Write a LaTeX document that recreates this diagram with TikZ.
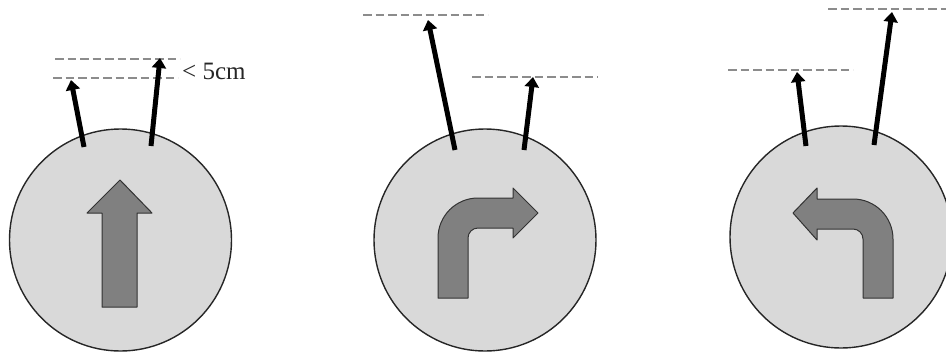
\documentclass[tikz,border=0pt]{standalone}
\usepackage{fontspec}
\setmainfont{Liberation Serif}
\usetikzlibrary{arrows.meta}
\definecolor{discfill}{HTML}{D9D9D9}
\definecolor{turnfill}{HTML}{808080}
\definecolor{turnedge}{HTML}{333333}
\definecolor{guide}{HTML}{8C8C8C}
\tikzset{
  disc/.style={circle, draw=black!85, line width=1.4pt, fill=discfill, minimum size=222pt, inner sep=0pt},
  probe/.style={line width=5pt, -{Triangle[width=14pt,length=10pt]}},
  guideline/.style={draw=guide, line width=1.6pt, dash pattern=on 8.5pt off 4pt},
  turnarrow/.style={fill=turnfill, draw=turnedge, line width=1pt, line join=round},
}
\begin{document}
\begin{tikzpicture}[x=1pt,y=-1pt]
\useasboundingbox (0,0) rectangle (946,354);
% discs
\node[disc] (c1) at (120.5,240) {};
\node[disc] (c2) at (485,240) {};
\node[disc] (c3) at (841,237) {};
% gray direction arrows
\path[turnarrow] (102,307) -- (102,213) -- (87,213) -- (120,180) -- (152,213) -- (137,213) -- (137,307) -- cycle;
\path[turnarrow] (438,298) -- (438,238) arc[start angle=180,end angle=270,radius=40] -- (513,198) -- (513,188) -- (538,213) -- (513,238) -- (513,228) -- (478,228) arc[start angle=270,end angle=180,radius=10] -- (468,298) -- cycle;
\path[turnarrow] (893,298) -- (893,239) arc[start angle=0,end angle=-90,radius=40] -- (817,199) -- (817,188) -- (793,213) -- (817,240) -- (817,229) -- (853,229) arc[start angle=-90,end angle=0,radius=10] -- (863,298) -- cycle;
% probe coordinates
\coordinate (a1s) at (84,147); \coordinate (a1e) at (71,80);
\coordinate (b1s) at (151,146); \coordinate (b1e) at (160,58);
\coordinate (a2s) at (455,150); \coordinate (a2e) at (428,20);
\coordinate (b2s) at (524,150); \coordinate (b2e) at (533,77);
\coordinate (a3s) at (806,146); \coordinate (a3e) at (797,72);
\coordinate (b3s) at (874,145); \coordinate (b3e) at (892,12);
% guide lines
\coordinate (g1a) at (55,59); \coordinate (g1b) at (180,59);
\coordinate (g1c) at (53,78); \coordinate (g1d) at (178,78);
\coordinate (g2a) at (363,15); \coordinate (g2b) at (488,15);
\coordinate (g2c) at (472,77); \coordinate (g2d) at (598,77);
\coordinate (g3a) at (728,70); \coordinate (g3b) at (853,70);
\coordinate (g3c) at (828,9); \coordinate (g3d) at (946,9);
\draw[guideline] (g1a) -- (g1b);
\draw[guideline] (g1c) -- (g1d);
\draw[guideline] (g2a) -- (g2b);
\draw[guideline] (g2c) -- (g2d);
\draw[guideline] (g3a) -- (g3b);
\draw[guideline] (g3c) -- (g3d);
% probes
\draw[probe] (a1s) -- (a1e);
\draw[probe] (b1s) -- (b1e);
\draw[probe] (a2s) -- (a2e);
\draw[probe] (b2s) -- (b2e);
\draw[probe] (a3s) -- (a3e);
\draw[probe] (b3s) -- (b3e);
% label
\node[anchor=west, inner sep=0pt, text=black!85, font=\fontsize{25}{29}\selectfont] (lbl) at (182,71) {< 5cm};
\end{tikzpicture}
\end{document}
